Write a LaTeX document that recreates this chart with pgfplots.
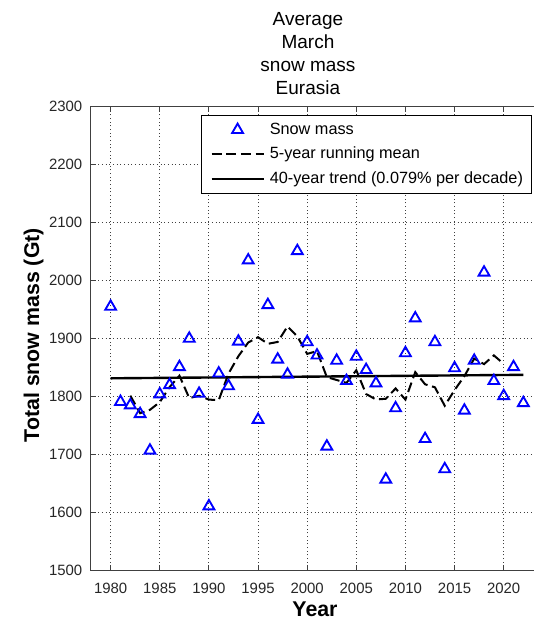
\documentclass[border=0pt]{standalone}
\usepackage{fontspec}
\setmainfont{Liberation Sans}
\usepackage{pgfplots}
\usepackage{pgfplotstable}
\pgfplotsset{compat=1.18}
\pgfplotsset{
  markimg/.style={legend image code/.code={\draw[##1] plot coordinates {(19.5pt,0pt)};}},
  lineimg/.style={legend image code/.code={\draw[##1] (0pt,0pt) -- (39pt,0pt);}},
}

\pgfplotstableread{
year mass
1980 1954
1981 1790
1982 1784
1983 1769
1984 1706
1985 1803
1986 1819
1987 1850
1988 1899
1989 1804
1990 1610
1991 1839
1992 1817
1993 1894
1994 2034
1995 1759
1996 1957
1997 1863
1998 1837
1999 2050
2000 1893
2001 1870
2002 1713
2003 1861
2004 1826
2005 1868
2006 1845
2007 1822
2008 1656
2009 1779
2010 1874
2011 1934
2012 1726
2013 1893
2014 1674
2015 1848
2016 1775
2017 1861
2018 2013
2019 1826
2020 1800
2021 1850
2022 1788
}\snowdata

\pgfplotstableread{
year mean
1982 1800.6
1983 1770.4
1984 1776.2
1985 1789.4
1986 1815.4
1987 1835.0
1988 1796.4
1989 1800.4
1990 1793.8
1991 1792.8
1992 1838.8
1993 1868.6
1994 1892.2
1995 1901.4
1996 1890.0
1997 1893.2
1998 1920.0
1999 1902.6
2000 1872.6
2001 1877.4
2002 1832.6
2003 1827.6
2004 1822.6
2005 1844.4
2006 1803.4
2007 1794.0
2008 1795.2
2009 1813.0
2010 1793.8
2011 1841.2
2012 1820.2
2013 1815.0
2014 1783.2
2015 1810.2
2016 1834.2
2017 1864.6
2018 1855.0
2019 1870.0
2020 1855.4
}\meandata

\begin{document}
\begin{tikzpicture}
\begin{axis}[
  at={(0,0)}, anchor=south west,
  scale only axis, width=339pt, height=348pt,
  xmin=1978, xmax=2024, ymin=1500, ymax=2300,
  xtick={1980,1985,...,2020}, ytick={1500,1600,...,2300},
  tick align=inside, major tick length=3.5pt,
  /pgf/number format/assume math mode=true,
  /pgf/number format/1000 sep={},
  tick label style={font=\fontsize{11.2}{13}\selectfont, text=black!85},
  xticklabel style={yshift=-6pt},
  yticklabel style={xshift=-3pt},
  grid=major,
  major grid style={black!75, line width=0.65pt, dash pattern=on 0.65pt off 2.1pt},
  axis line style={black!75, line width=0.75pt},
  tick style={black!75, line width=0.75pt},
  xlabel={Year}, ylabel={Total snow mass (Gt)},
  label style={font=\fontsize{16}{19}\selectfont\bfseries},
  xlabel style={at={(axis description cs:0.4956,-0.084)}, anchor=center},
  ylabel style={at={(axis description cs:-0.127,0.506)}, anchor=center},
  title={Average\\March\\snow mass\\Eurasia},
  title style={at={(axis description cs:0.480,1.1853)}, anchor=north, align=center, inner sep=0pt, font=\fontsize{14.25}{17.25}\selectfont},
  legend style={at={(axis description cs:0.976,0.9806)}, anchor=north east,
    draw=black, line width=0.75pt, fill=white,
    font=\fontsize{12.2}{14}\selectfont,
    nodes={text height=9.2pt, text depth=2.8pt, inner sep=0pt},
    inner xsep=6.5pt, inner ysep=4.75pt, row sep=6.4pt, column sep=3.75pt},
  legend cell align=left,
]
\addplot[only marks, blue, mark=triangle, mark size=4.7pt, mark options={solid, line width=1.4pt}, markimg]
  table[x=year, y=mass] {\snowdata};
\addlegendentry{Snow mass}
\addplot[black, no marks, line width=1.5pt, dash pattern=on 7.5pt off 3.5pt, lineimg]
  table[x=year, y=mean] {\meandata};
\addlegendentry{5-year running mean}
\addplot[black, no marks, line width=1.8pt, lineimg]
  coordinates {(1980,1830.5) (2022,1836.5)};
\addlegendentry{40-year trend (0.079\% per decade)}
\end{axis}
\pgfresetboundingbox
\path[use as bounding box] (-68.25pt,-39pt) rectangle (332.25pt,427.5pt);
\end{tikzpicture}
\end{document}
